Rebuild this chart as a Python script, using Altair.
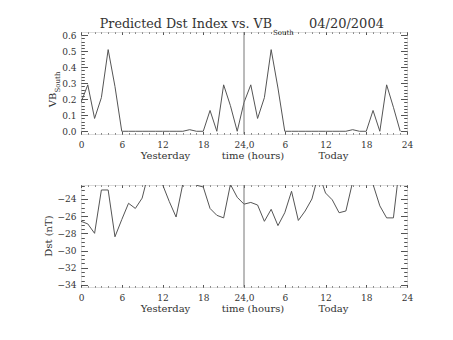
import altair as alt
import pandas as pd

# ---------------- data ----------------
hours = list(range(48))
vb_south = [0.18, 0.29, 0.08, 0.21, 0.51, 0.28, 0.0, 0.0, 0.0, 0.0, 0.0, 0.0,
            0.0, 0.0, 0.0, 0.0, 0.01, 0.0, 0.0, 0.13, 0.0, 0.29, 0.16, 0.0,
            0.18, 0.29, 0.08, 0.21, 0.51, 0.27, 0.0, 0.0, 0.0, 0.0, 0.0, 0.0,
            0.0, 0.0, 0.0, 0.0, 0.01, 0.0, 0.0, 0.13, 0.0, 0.29, 0.15, 0.0]
dst = [-26.6, -26.9, -28.0, -22.95, -22.95, -28.4, -26.4, -24.5, -25.1, -23.9,
       -20.8, -21.0, -22.3, -24.3, -26.1, -22.2, -21.5, -22.4, -22.6, -25.1,
       -25.9, -26.2, -22.3, -23.8, -24.6, -24.4, -24.7, -26.6, -25.2, -27.1,
       -25.6, -23.1, -26.5, -25.4, -24.0, -21.0, -23.3, -24.1, -25.6, -25.4,
       -22.0, -21.5, -21.5, -22.3, -24.8, -26.2, -26.2, -19.5]
day_boundary = [24]

x_major = [0, 6, 12, 18, 24, 30, 36, 42, 48]
x_minor = list(range(0, 49))
vb_major = [0.0, 0.1, 0.2, 0.3, 0.4, 0.5, 0.6]
vb_minor = [round(i * 0.02, 2) for i in range(0, 31)]
dst_major = [-34, -32, -30, -28, -26, -24]
dst_minor = [-34 + 0.5 * i for i in range(0, 24)]

title_main = "Predicted Dst Index vs. VB"
title_sub = "South"
title_date = "04/20/2004"
xtitles = ["Yesterday", "time (hours)", "Today"]

W, H = 326, 102
FONT = "DejaVu Serif"
LINE = "#555555"
TXT = "#333333"

xscale = alt.Scale(domain=[0, 48], nice=False, zero=False)


def ax(orient, values, size=0, labels=False, offset=None, **kw):
    d = dict(orient=orient, values=values, grid=False, domain=False, title=None,
             tickColor=LINE, tickWidth=1, labels=labels)
    if size > 0:
        d["tickSize"] = size
        d["ticks"] = True
    else:
        d["ticks"] = False
    if offset is not None:
        d["offset"] = offset
    if labels:
        d.update(labelFont=FONT, labelFontSize=9, labelColor=TXT,
                 labelOverlap=False, labelFlush=False)
    d.update(kw)
    return alt.Axis(**d)


def text_layer(texts, xs, ys, size, angle=0, align="center", baseline="alphabetic"):
    layers = []
    for t, xv, yv in zip(texts, xs, ys):
        c = alt.Chart(pd.DataFrame({"t": [t]})).mark_text(
            font=FONT, fontSize=size, color=TXT, align=align, baseline=baseline,
            angle=angle
        ).encode(text="t:N", x=alt.value(xv), y=alt.value(yv))
        layers.append(c)
    return layers


def panel(values, ydomain, ymajor, yminor, yfmt, ylayers):
    df = pd.DataFrame({"h": hours, "v": values})
    yscale = alt.Scale(domain=ydomain, nice=False, zero=False)
    xlab = ("datum.value == 24 ? '24,0' : datum.value > 24 ? "
            "format(datum.value - 24, 'd') : format(datum.value, 'd')")

    base = alt.Chart(df)
    line = base.mark_line(color=LINE, strokeWidth=1, clip=True).encode(
        x=alt.X("h:Q", scale=xscale,
                axis=ax("bottom", x_major, labels=True, labelExpr=xlab, labelPadding=6)),
        y=alt.Y("v:Q", scale=yscale,
                axis=ax("left", ymajor, labels=True, format=yfmt, labelPadding=5)),
    )
    ghost = []
    specs = [
        (ax("top", x_major, 2.5, offset=-H), ax("right", ymajor, 6.5, offset=-W)),
        (ax("top", x_minor, 1.2, offset=-H), ax("right", yminor, 3.3, offset=-W)),
        (ax("bottom", x_major, 2.5, offset=-H), ax("left", ymajor, 6.5, offset=-W)),
        (ax("bottom", x_minor, 1.2, offset=-H), ax("left", yminor, 3.3, offset=-W)),
    ]
    for xa, ya in specs:
        ghost.append(base.mark_line(opacity=0, clip=True).encode(
            x=alt.X("h:Q", scale=xscale, axis=xa),
            y=alt.Y("v:Q", scale=yscale, axis=ya)))
    rule = alt.Chart(pd.DataFrame({"h": day_boundary})).mark_rule(
        color="#777777", strokeWidth=1).encode(x=alt.X("h:Q", scale=xscale, axis=None))
    xt = text_layer(xtitles, [84.5, 172, 252.5], [126.5, 126.5, 126.5], 10)
    return alt.layer(line, *ghost, rule, *xt, *ylayers).resolve_axis(
        x="independent", y="independent").properties(width=W, height=H)


top_texts = []
top_texts += text_layer([title_main], [191], [-4.5], 12.7, align="right")
top_texts += text_layer([title_sub], [192], [2.5], 7, align="left")
top_texts += text_layer([title_date], [228], [-4.5], 13, align="left")
top_texts += text_layer(["VB"], [-25], [68], 10, angle=270)
top_texts += text_layer([title_sub], [-21.5], [50], 7, angle=270)

bot_texts = text_layer(["Dst (nT)"], [-29], [51], 10, angle=270)

top = panel(vb_south, [-0.017, 0.62], vb_major, vb_minor, ".1f", top_texts)
bottom = panel(dst, [-34.25, -22.37], dst_major, dst_minor, "d", bot_texts)

chart = alt.vconcat(top, bottom, spacing=51, bounds="flush").properties(
    padding={"left": 43, "top": 17, "right": 10, "bottom": 10}
).configure_view(stroke=LINE, strokeWidth=1).configure(background="white")

chart.save("out.html", embed_options={"renderer": "svg", "actions": False})
